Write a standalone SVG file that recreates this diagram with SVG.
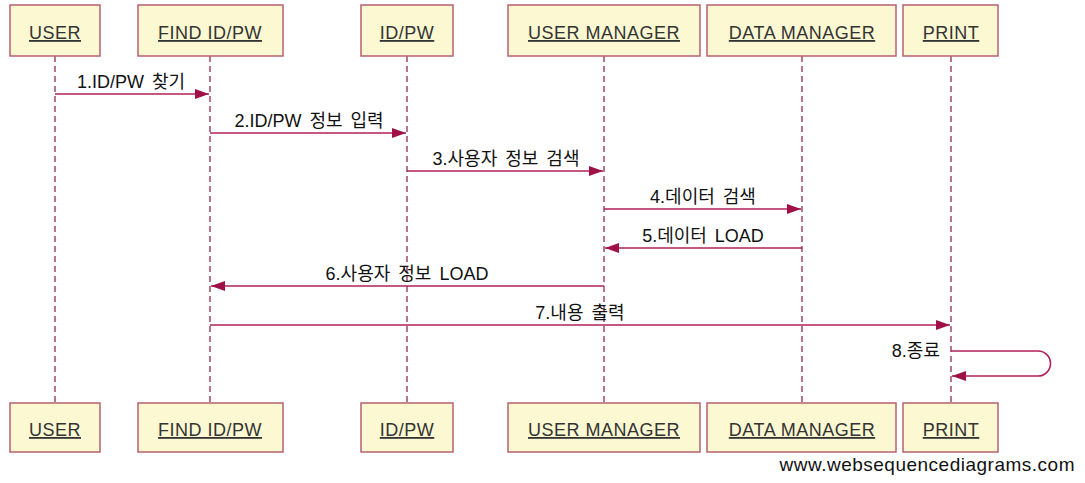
<svg xmlns="http://www.w3.org/2000/svg" width="1085" height="483" viewBox="0 0 1085 483">
<style>
.box{fill:#fcf9d2;stroke:#b86070;stroke-width:1.5}
.bt{font-family:"Liberation Sans",Arial,sans-serif;font-size:18px;letter-spacing:0.5px;fill:#333;text-anchor:middle;text-decoration:underline}
.life{stroke:#a04868;stroke-width:1.5;stroke-dasharray:6,4;fill:none}
.msg{stroke:#b0205a;stroke-width:1.6;fill:none}
.lbl{font-family:"Liberation Sans","Noto Sans CJK KR",sans-serif;font-size:18px;word-spacing:3px;fill:#111;text-anchor:middle}
</style>
<defs>
<marker id="ah" viewBox="0 0 14 10" refX="14" refY="5" markerWidth="14" markerHeight="10" markerUnits="userSpaceOnUse" orient="auto">
<path d="M0,0 L14,5 L0,10 Z" fill="#a01048"/>
</marker>
</defs>
<rect width="1085" height="483" fill="#fff"/>
<g id="lifelines">
<line class="life" x1="55" y1="56" x2="55" y2="403"/>
<line class="life" x1="210" y1="56" x2="210" y2="403"/>
<line class="life" x1="407" y1="56" x2="407" y2="403"/>
<line class="life" x1="604" y1="56" x2="604" y2="403"/>
<line class="life" x1="802" y1="56" x2="802" y2="403"/>
<line class="life" x1="951" y1="56" x2="951" y2="403"/>
</g>
<g id="user">
<rect class="box" x="10" y="5" width="90" height="51"/><text class="bt" x="55" y="39">USER</text>
<rect class="box" x="10" y="403" width="90" height="49"/><text class="bt" x="55" y="436">USER</text>
</g>
<g id="findidpw">
<rect class="box" x="138" y="5" width="145" height="51"/><text class="bt" x="210" y="39">FIND ID/PW</text>
<rect class="box" x="138" y="403" width="145" height="49"/><text class="bt" x="210" y="436">FIND ID/PW</text>
</g>
<g id="idpw">
<rect class="box" x="361" y="5" width="92" height="51"/><text class="bt" x="407" y="39">ID/PW</text>
<rect class="box" x="361" y="403" width="92" height="49"/><text class="bt" x="407" y="436">ID/PW</text>
</g>
<g id="usermanager">
<rect class="box" x="508" y="5" width="192" height="51"/><text class="bt" x="604" y="39">USER MANAGER</text>
<rect class="box" x="508" y="403" width="192" height="49"/><text class="bt" x="604" y="436">USER MANAGER</text>
</g>
<g id="datamanager">
<rect class="box" x="707" y="5" width="189" height="51"/><text class="bt" x="802" y="39">DATA MANAGER</text>
<rect class="box" x="707" y="403" width="189" height="49"/><text class="bt" x="802" y="436">DATA MANAGER</text>
</g>
<g id="print">
<rect class="box" x="903" y="5" width="95" height="51"/><text class="bt" x="951" y="39">PRINT</text>
<rect class="box" x="903" y="403" width="95" height="49"/><text class="bt" x="951" y="436">PRINT</text>
</g>
<g id="connectors">
<line class="msg" x1="55" y1="94" x2="209" y2="94" marker-end="url(#ah)"/>
<text class="lbl" x="131" y="88">1.ID/PW 찾기</text>
<line class="msg" x1="210" y1="133" x2="406" y2="133" marker-end="url(#ah)"/>
<text class="lbl" x="309" y="127">2.ID/PW 정보 입력</text>
<line class="msg" x1="407" y1="171" x2="603" y2="171" marker-end="url(#ah)"/>
<text class="lbl" x="506" y="165">3.사용자 정보 검색</text>
<line class="msg" x1="604" y1="209" x2="801" y2="209" marker-end="url(#ah)"/>
<text class="lbl" x="703" y="203">4.데이터 검색</text>
<line class="msg" x1="802" y1="248" x2="605" y2="248" marker-end="url(#ah)"/>
<text class="lbl" x="703" y="242">5.데이터 LOAD</text>
<line class="msg" x1="604" y1="286" x2="211" y2="286" marker-end="url(#ah)"/>
<text class="lbl" x="407" y="280">6.사용자 정보 LOAD</text>
<line class="msg" x1="210" y1="325" x2="950" y2="325" marker-end="url(#ah)"/>
<text class="lbl" x="580" y="319">7.내용 출력</text>
<path class="msg" d="M951,351 H1038 A12.5,12.5 0 0 1 1038,376 H952" marker-end="url(#ah)"/>
<text class="lbl" x="940" y="357" style="text-anchor:end">8.종료</text>
</g>
<text x="1075" y="471" font-family="Liberation Sans,Arial,sans-serif" font-size="19" letter-spacing="0.5" fill="#111" text-anchor="end">www.websequencediagrams.com</text>
</svg>
